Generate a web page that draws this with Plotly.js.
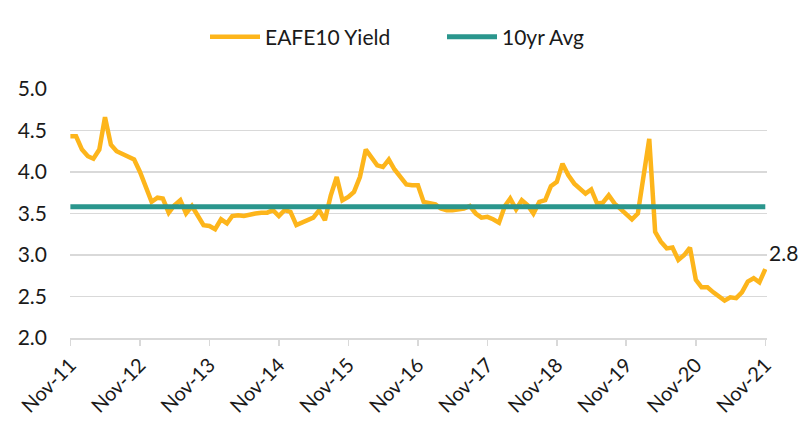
<!DOCTYPE html>
<html>
<head>
<meta charset="utf-8">
<script src="https://cdn.plot.ly/plotly-3.0.1.min.js"></script>
<style>html,body{margin:0;padding:0;background:#fff;}#chart{width:808px;height:432px;}</style>
</head>
<body>
<div id="chart"></div>
<script>
// Monthly observations, Nov-2011 .. Nov-2021
const startYear = 2011, startMonth = 11, nMonths = 121;
const yieldValues = [
  4.43, 4.43, 4.27, 4.19, 4.16, 4.27, 4.66, 4.33, 4.25, 4.22, 4.18, 4.15,
  4.00, 3.82, 3.64, 3.69, 3.68, 3.51, 3.60, 3.66, 3.50, 3.59, 3.48, 3.36,
  3.35, 3.31, 3.43, 3.38, 3.47, 3.48, 3.47, 3.49, 3.50, 3.51, 3.51, 3.54,
  3.47, 3.54, 3.52, 3.36, 3.39, 3.41, 3.45, 3.54, 3.42, 3.72, 3.94, 3.66,
  3.70, 3.76, 3.94, 4.27, 4.17, 4.08, 4.06, 4.15, 4.03, 3.93, 3.85, 3.84,
  3.84, 3.64, 3.63, 3.61, 3.56, 3.54, 3.54, 3.55, 3.56, 3.59, 3.50, 3.45,
  3.46, 3.43, 3.39, 3.59, 3.68, 3.55, 3.66, 3.60, 3.50, 3.64, 3.66, 3.83,
  3.88, 4.10, 3.96, 3.86, 3.81, 3.74, 3.79, 3.62, 3.63, 3.72, 3.62, 3.56,
  3.49, 3.43, 3.50, 3.95, 4.40, 3.28, 3.16, 3.08, 3.09, 2.94, 3.00, 3.09,
  2.70, 2.61, 2.61, 2.55, 2.50, 2.45, 2.49, 2.48, 2.55, 2.68, 2.72, 2.67,
  2.83
];
const avgValue = 3.58;
const seriesNames = ["EAFE10 Yield", "10yr Avg"];
const lastLabel = "2.8";
const yTickVals = [2.0, 2.5, 3.0, 3.5, 4.0, 4.5, 5.0];

const dates = [];
for (let i = 0; i < nMonths; i++) {
  const m0 = startMonth - 1 + i;
  const y = startYear + Math.floor(m0 / 12);
  const m = (m0 % 12) + 1;
  dates.push(y + "-" + String(m).padStart(2, "0") + "-01");
}
const avgSeries = dates.map(() => avgValue);

const font = "Lato, 'Open Sans', sans-serif";
const traces = [
  {x: dates, y: yieldValues, type: "scatter", mode: "lines", name: seriesNames[0],
   line: {color: "#FDB51B", width: 4.5, shape: "linear"}},
  {x: dates, y: avgSeries, type: "scatter", mode: "lines", name: seriesNames[1],
   line: {color: "#2A968D", width: 5}}
];
const layout = {
  width: 808, height: 432,
  margin: {l: 70, r: 41, t: 89, b: 94, autoexpand: false},
  paper_bgcolor: "#fff", plot_bgcolor: "#fff",
  font: {family: font, size: 20, color: "#1a1a1a"},
  showlegend: true,
  legend: {orientation: "h", x: 205 / 808, xref: "container", xanchor: "left",
           y: 1 - 37 / 432, yref: "container", yanchor: "middle",
           font: {family: font, size: 21, color: "#1a1a1a"}, itemwidth: 50,
           entrywidth: 172, tracegroupgap: 0},
  xaxis: {
    type: "date", range: ["2011-10-30", "2021-11-10"],
    tick0: "2011-11-01", dtick: "M12", tickformat: "%b-%y",
    tickangle: -45, ticks: "outside", ticklen: 6, tickcolor: "#d9d9d9", tickwidth: 1.5,
    showline: true, linecolor: "#d9d9d9", linewidth: 1.5,
    showgrid: false, zeroline: false,
    tickfont: {family: font, size: 20, color: "#1a1a1a"}
  },
  yaxis: {
    range: [2.0, 5.0], tickvals: yTickVals, tickformat: ".1f",
    showgrid: true, gridcolor: "#d9d9d9", gridwidth: 1.5, zeroline: false,
    showline: false, ticks: "", ticklabelstandoff: 22,
    tickfont: {family: font, size: 21, color: "#1a1a1a"}
  },
  annotations: [{
    x: dates[dates.length - 1], y: yieldValues[yieldValues.length - 1],
    text: lastLabel, showarrow: false, xanchor: "left", yanchor: "bottom",
    xshift: 2, yshift: 2, font: {family: font, size: 21, color: "#1a1a1a"}
  }]
};
Plotly.newPlot("chart", traces, layout, {displayModeBar: false, staticPlot: true});
</script>
</body>
</html>
